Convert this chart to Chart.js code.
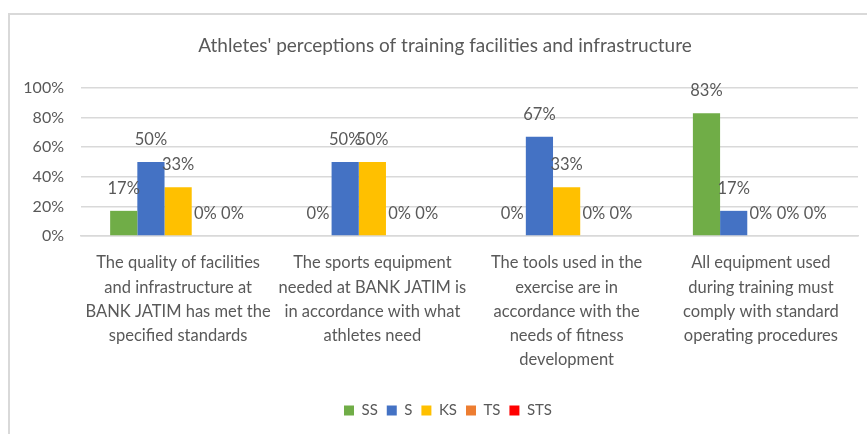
<!DOCTYPE html>
<html>
<head>
<meta charset="utf-8">
<script src="https://cdn.jsdelivr.net/npm/chart.js@4.4.1/dist/chart.umd.min.js"></script>
<style>
  html, body { margin: 0; padding: 0; background: #fff; }
  #wrap { position: relative; width: 867px; height: 434px; overflow: hidden; }
  #frame { position: absolute; left: 8px; top: 13px; width: 870px; height: 440px;
           border-top: 2px solid #d9d9d9; border-left: 2px solid #d9d9d9; box-sizing: border-box; pointer-events: none; }
  canvas { position: absolute; left: 0; top: 0; }
</style>
</head>
<body>
<div id="wrap">
  <canvas id="c" width="867" height="434"></canvas>
  <div id="frame"></div>
</div>
<script>
const chartTitle = "Athletes' perceptions of training facilities and infrastructure";
const categories = [
  ["The quality of facilities", "and infrastructure at", "BANK JATIM has met the", "specified standards"],
  ["The sports equipment", "needed at BANK JATIM is", "in accordance with what", "athletes need"],
  ["The tools used in the", "exercise are in", "accordance with the", "needs of fitness", "development"],
  ["All equipment used", "during training must", "comply with standard", "operating procedures"]
];
const seriesNames = ["SS", "S", "KS", "TS", "STS"];
const SS  = [17, 0, 0, 83];
const S   = [50, 50, 67, 17];
const KS  = [33, 50, 33, 0];
const TS  = [0, 0, 0, 0];
const STS = [0, 0, 0, 0];
const yTicks = [0, 20, 40, 60, 80, 100];

const colors = ["#70AD47", "#4472C4", "#FFC000", "#ED7D31", "#FF0000"];
const seriesValues = [SS, S, KS, TS, STS];
const textColor = "#595959";
const fontFamily = "Lato, 'Liberation Sans', sans-serif";

const valueLabels = {
  id: 'valueLabels',
  afterDatasetsDraw(chart) {
    const ctx = chart.ctx;
    ctx.save();
    ctx.font = "16.5px " + fontFamily;
    ctx.fillStyle = textColor;
    ctx.textAlign = 'center';
    ctx.textBaseline = 'middle';
    chart.data.datasets.forEach((ds, i) => {
      const meta = chart.getDatasetMeta(i);
      meta.data.forEach((bar, j) => {
        ctx.fillText(ds.data[j] + '%', bar.x, bar.y - 22);
      });
    });
    ctx.restore();
  }
};

const titlePlugin = {
  id: 'titlePlugin',
  afterDraw(chart) {
    const ctx = chart.ctx;
    ctx.save();
    ctx.font = "19px " + fontFamily;
    ctx.fillStyle = textColor;
    ctx.textAlign = 'center';
    ctx.textBaseline = 'middle';
    ctx.fillText(chartTitle, 445, 46);
    ctx.restore();
  }
};

const legendShift = {
  id: 'legendShift',
  afterLayout(chart) {
    if (chart.legend) { chart.legend.left += 14; chart.legend.right += 14; }
  }
};

new Chart(document.getElementById('c'), {
  type: 'bar',
  data: {
    labels: categories,
    datasets: seriesNames.map((n, i) => ({
      label: n,
      data: seriesValues[i],
      backgroundColor: colors[i],
      borderWidth: 0,
      categoryPercentage: 0.7,
      barPercentage: 1.0
    }))
  },
  options: {
    responsive: false,
    animation: false,
    layout: { padding: { left: 10, right: 9, top: 88, bottom: 6 } },
    plugins: {
      title: { display: false },
      legend: {
        position: 'bottom',
        labels: {
          color: textColor,
          font: { family: fontFamily, size: 15 },
          boxWidth: 10,
          boxHeight: 10,
          padding: 9
        }
      },
      tooltip: { enabled: false }
    },
    scales: {
      x: {
        grid: { display: false, drawTicks: false },
        border: { color: '#d9d9d9', width: 1.5 },
        ticks: {
          color: textColor,
          font: { family: fontFamily, size: 16.5, lineHeight: 1.47 },
          padding: 15,
          maxRotation: 0,
          autoSkip: false
        },
        afterFit(scale) { scale.height = 158; }
      },
      y: {
        min: 0, max: 100,
        afterBuildTicks(scale) { scale.ticks = yTicks.map(v => ({ value: v })); },
        grid: { color: '#d9d9d9', lineWidth: 1.5, drawTicks: false },
        border: { display: false },
        ticks: {
          color: textColor,
          font: { family: fontFamily, size: 16 },
          padding: 17,
          callback: v => v + '%'
        },
        afterFit(scale) { scale.width = 71; }
      }
    }
  },
  plugins: [valueLabels, titlePlugin, legendShift]
});
</script>
</body>
</html>
